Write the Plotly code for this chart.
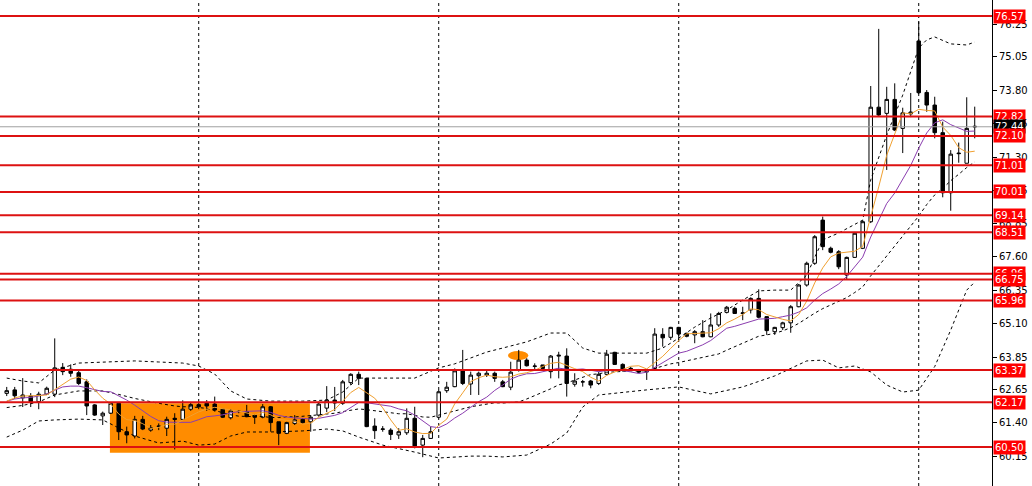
import plotly.graph_objects as go

# ---------------- data ----------------
opens = [62.50, 62.63, 62.33, 62.40, 62.19, 62.47, 62.47, 63.47, 63.40, 63.27,
         62.93, 62.07, 61.66, 61.76, 62.13, 61.07, 60.91, 61.53, 61.13, 61.28,
         61.20, 61.57, 61.53, 61.91, 62.08, 62.13, 62.10, 61.91, 61.59, 61.82,
         61.82, 61.69, 61.61, 62.00, 61.44, 61.01, 61.38, 61.53, 61.44, 61.69,
         61.95, 62.25, 62.13, 62.90, 63.21, 63.06, 61.28, 61.16, 61.13, 60.95,
         61.03, 61.57, 60.57, 60.82, 61.61, 62.60, 62.75, 63.34, 62.85, 63.16,
         63.18, 63.25, 62.93, 62.73, 63.37, 63.74, 63.52, 63.56, 63.31, 63.89,
         63.89, 62.84, 62.93, 62.96, 62.87, 63.21, 64.03, 63.58, 63.40, 63.37,
         63.30, 63.43, 64.70, 64.59, 64.96, 64.74, 64.68, 64.80, 64.61, 65.05,
         65.52, 65.67, 65.48, 65.61, 66.04, 65.36, 64.80, 64.95, 65.13, 65.73,
         66.54, 67.35, 68.96, 67.91, 67.78, 66.91, 67.57, 67.91, 68.90, 73.17,
         72.94, 73.46, 72.38, 72.92, 75.64, 73.72, 73.25, 72.22, 69.98, 71.46,
         71.08, 72.46]
highs = [62.74, 62.74, 63.07, 62.51, 62.56, 62.75, 64.55, 63.63, 63.58, 63.40,
         63.02, 62.10, 61.82, 62.15, 62.15, 61.26, 61.66, 61.66, 61.32, 61.38,
         61.63, 61.76, 62.24, 62.15, 62.15, 62.25, 62.38, 61.94, 61.91, 61.88,
         62.07, 61.69, 62.10, 62.03, 61.44, 61.44, 61.69, 61.57, 61.69, 62.19,
         62.77, 62.74, 63.00, 63.25, 63.31, 63.07, 61.57, 61.28, 61.20, 61.20,
         61.94, 62.00, 60.95, 61.26, 62.63, 62.93, 63.43, 64.12, 63.31, 63.31,
         63.37, 63.31, 63.00, 63.68, 64.12, 63.81, 63.62, 63.56, 63.93, 64.05,
         64.18, 63.25, 63.00, 63.00, 63.31, 64.12, 64.05, 63.62, 63.49, 63.41,
         63.39, 64.93, 64.93, 64.98, 64.98, 64.76, 64.86, 65.23, 65.48, 65.54,
         65.76, 65.73, 65.73, 66.08, 66.38, 65.38, 64.98, 65.17, 65.79, 66.58,
         67.41, 68.40, 69.09, 67.97, 67.84, 67.60, 68.52, 68.96, 73.96, 76.09,
         73.93, 74.06, 73.15, 73.70, 76.36, 73.81, 73.56, 72.63, 71.57, 71.85,
         73.54, 73.19]
lows = [62.40, 62.29, 61.99, 61.99, 61.91, 62.44, 62.36, 63.18, 63.12, 62.81,
        61.69, 61.66, 61.32, 61.73, 60.76, 60.64, 60.82, 61.13, 61.07, 61.13,
        60.91, 60.41, 61.51, 61.85, 61.91, 61.85, 61.82, 61.58, 61.53, 61.76,
        61.61, 61.36, 61.57, 61.07, 60.57, 60.98, 61.32, 61.38, 61.07, 61.63,
        61.80, 61.84, 62.07, 62.81, 62.81, 61.24, 60.80, 61.07, 60.76, 60.80,
        60.95, 60.45, 60.12, 60.80, 61.57, 62.52, 62.73, 62.81, 62.44, 62.44,
        63.11, 62.93, 62.73, 62.62, 63.31, 63.50, 63.41, 63.37, 63.06, 63.06,
        62.38, 62.75, 62.75, 62.69, 62.81, 63.18, 63.56, 63.31, 63.33, 63.25,
        63.00, 63.37, 64.24, 64.49, 64.49, 64.59, 64.37, 64.59, 64.59, 64.98,
        65.48, 65.46, 65.23, 65.48, 65.30, 64.68, 64.68, 64.86, 64.76, 65.71,
        66.48, 67.29, 67.84, 67.72, 67.13, 66.73, 67.55, 67.88, 68.85, 72.84,
        70.83, 72.28, 71.46, 72.80, 73.66, 73.00, 72.01, 69.81, 69.31, 71.10,
        71.08, 72.01]
closes = [62.60, 62.41, 62.44, 62.19, 62.47, 62.69, 63.45, 63.31, 63.25, 62.87,
          62.03, 61.69, 61.76, 62.13, 61.07, 60.95, 61.53, 61.17, 61.22, 61.27,
          61.53, 61.53, 61.91, 62.08, 62.00, 62.03, 61.88, 61.61, 61.85, 61.83,
          61.63, 61.61, 62.00, 61.41, 61.01, 61.41, 61.51, 61.41, 61.61, 62.10,
          62.25, 62.14, 62.93, 63.21, 63.06, 61.26, 61.11, 61.17, 60.97, 61.07,
          61.57, 60.54, 60.82, 61.07, 62.56, 62.73, 63.34, 62.87, 63.18, 63.25,
          63.25, 63.06, 62.75, 63.29, 63.74, 63.53, 63.51, 63.43, 63.89, 63.92,
          62.87, 62.96, 62.93, 62.81, 63.21, 63.96, 63.58, 63.37, 63.43, 63.29,
          63.37, 64.71, 64.57, 64.96, 64.71, 64.63, 64.80, 64.61, 65.05, 65.48,
          65.71, 65.48, 65.50, 66.04, 65.34, 64.84, 64.96, 65.13, 65.73, 66.54,
          67.35, 68.34, 67.97, 67.76, 67.22, 67.57, 68.47, 68.90, 73.17, 72.88,
          73.46, 72.32, 72.96, 72.99, 73.71, 73.25, 72.22, 69.98, 71.42, 71.44,
          72.38, 72.44]

fast_ma = [62.21, 62.33, 62.40, 62.40, 62.42, 62.44, 62.64, 62.82, 63.03, 63.11,
           62.98, 62.63, 62.32, 62.10, 61.73, 61.52, 61.49, 61.37, 61.19, 61.23,
           61.35, 61.35, 61.49, 61.66, 61.81, 61.91, 61.98, 61.92, 61.88, 61.84,
           61.76, 61.70, 61.79, 61.70, 61.53, 61.49, 61.46, 61.35, 61.39, 61.61,
           61.77, 61.90, 62.21, 62.53, 62.72, 62.52, 62.32, 61.96, 61.51, 61.12,
           61.18, 61.06, 61.00, 61.01, 61.31, 61.54, 62.11, 62.52, 62.94, 63.08,
           63.18, 63.12, 63.10, 63.12, 63.22, 63.27, 63.36, 63.50, 63.62, 63.66,
           63.53, 63.42, 63.31, 63.10, 62.96, 63.17, 63.30, 63.39, 63.51, 63.53,
           63.41, 63.64, 63.88, 64.18, 64.47, 64.72, 64.74, 64.74, 64.76, 64.91,
           65.13, 65.27, 65.44, 65.65, 65.62, 65.44, 65.34, 65.26, 65.20, 65.44,
           65.94, 66.62, 67.18, 67.59, 67.73, 67.77, 67.80, 67.98, 69.06, 70.20,
           71.38, 72.14, 72.96, 72.92, 73.09, 73.05, 73.03, 72.43, 72.12, 71.66,
           71.49, 71.53]
slow_ma = [62.21, 62.29, 62.33, 62.35, 62.40, 62.48, 62.62, 62.74, 62.77, 62.77,
           62.71, 62.64, 62.57, 62.56, 62.42, 62.25, 62.06, 61.85, 61.64, 61.48,
           61.43, 61.42, 61.43, 61.42, 61.52, 61.63, 61.66, 61.70, 61.77, 61.82,
           61.83, 61.84, 61.85, 61.79, 61.68, 61.62, 61.58, 61.57, 61.54, 61.57,
           61.63, 61.68, 61.78, 61.96, 62.16, 62.15, 62.11, 62.08, 62.02, 61.92,
           61.85, 61.69, 61.48, 61.26, 61.22, 61.36, 61.58, 61.76, 61.98, 62.19,
           62.36, 62.61, 62.81, 63.03, 63.15, 63.23, 63.24, 63.30, 63.37, 63.44,
           63.40, 63.39, 63.41, 63.36, 63.31, 63.35, 63.36, 63.35, 63.30, 63.24,
           63.29, 63.47, 63.63, 63.84, 64.00, 64.07, 64.18, 64.31, 64.47, 64.69,
           64.93, 65.00, 65.09, 65.20, 65.27, 65.28, 65.30, 65.36, 65.42, 65.53,
           65.69, 65.98, 66.22, 66.39, 66.58, 66.86, 67.21, 67.58, 68.33, 68.96,
           69.58, 69.97, 70.47, 71.00, 71.64, 72.21, 72.59, 72.70, 72.52, 72.38,
           72.27, 72.28]

band_mid_idx = [0, 2, 4, 6, 9, 12, 14, 16] + list(range(19, 122))
band_mid = [61.97, 62.05, 62.18, 62.44, 62.59, 62.59, 62.46, 62.31,
            62.13, 62.07, 62.03, 62.00, 62.00, 61.97, 61.94, 61.86, 61.78, 61.70,
            61.65, 61.63, 61.63, 61.64, 61.60, 61.60, 61.63, 61.62, 61.64, 61.66,
            61.70, 61.73, 61.76, 61.82, 61.87, 61.92, 61.89, 61.85, 61.82, 61.78,
            61.74, 61.74, 61.68, 61.62, 61.61, 61.69, 61.75, 61.85, 61.92, 62.00,
            62.05, 62.11, 62.15, 62.14, 62.15, 62.18, 62.29, 62.41, 62.53, 62.67,
            62.82, 62.88, 63.00, 63.11, 63.20, 63.23, 63.29, 63.30, 63.33, 63.34,
            63.34, 63.34, 63.43, 63.52, 63.60, 63.65, 63.71, 63.77, 63.83, 63.89,
            63.97, 64.11, 64.24, 64.36, 64.52, 64.63, 64.68, 64.74, 64.83, 64.95,
            65.11, 65.31, 65.49, 65.66, 65.80, 65.92, 66.07, 66.26, 66.47, 66.88,
            67.25, 67.63, 67.98, 68.35, 68.70, 69.11, 69.54, 69.90, 70.14, 70.43,
            70.67, 70.92, 71.13]
band_up_idx = [0, 2, 4, 6, 9, 12, 16, 19, 22, 24, 26, 28, 30, 33, 37, 40, 42, 44, 47, 51,
               54, 56, 58, 60, 62, 65, 68, 70, 72, 74, 80, 82, 84, 86, 88, 90, 92, 94, 96, 98,
               100, 101, 102, 104, 106, 107, 108, 110, 112, 114, 115, 116, 118, 120, 121]
band_up = [63.07, 62.96, 62.89, 63.37, 63.63, 63.67, 63.71, 63.67, 63.63, 63.52,
           63.22, 62.59, 62.29, 62.21, 62.21, 62.25, 62.55, 63.07, 63.07, 63.07,
           63.45, 63.60, 63.82, 64.04, 64.19, 64.42, 64.75, 64.75, 64.19, 64.00,
           64.00, 64.19, 64.56, 64.97, 65.31, 65.61, 65.98, 66.32, 66.35, 66.35,
           66.91, 67.55, 68.22, 68.48, 68.78, 68.96, 70.46, 72.13, 73.62, 75.38,
           75.68, 75.79, 75.53, 75.49, 75.60]
band_lo_idx = [0, 2, 4, 6, 9, 12, 14, 16, 19, 22, 24, 26, 28, 30, 33, 37, 40, 42, 44, 47,
               51, 54, 58, 60, 62, 65, 68, 70, 72, 74, 80, 84, 88, 92, 96, 100, 102, 104, 106,
               108, 110, 112, 114, 116, 118, 120, 121]
band_lo = [60.87, 61.13, 61.47, 61.51, 61.54, 61.51, 61.21, 60.91, 60.65, 60.72,
           60.57, 60.61, 60.91, 61.06, 61.06, 61.10, 61.17, 61.10, 60.87, 60.57,
           60.31, 60.09, 60.16, 60.16, 60.13, 60.20, 60.61, 61.02, 61.99, 62.44,
           62.63, 62.74, 62.48, 62.74, 63.15, 63.71, 63.74, 63.45, 63.52, 63.30,
           62.81, 62.55, 62.62, 63.50, 64.86, 66.35, 66.65]

levels = [76.57, 72.82, 72.10, 71.01, 70.01, 69.14, 68.51, 66.96, 66.75, 65.96, 63.37, 62.17, 60.50]
current_price = 72.44
separators = [24, 54, 84, 114]
tick_vals = [76.25, 75.05, 73.80, 72.55, 71.30, 70.05, 68.85, 67.60, 66.35, 65.10, 63.85, 62.65, 61.40, 60.15]
zone_x = [12.9, 37.9]
zone_y = [60.29, 62.13]
mark_x = [62.66, 65.2]
mark_y = [63.74, 64.08]

# ---------------- figure ----------------
idx = list(range(len(opens)))
FONT = "DejaVu Sans"
fig = go.Figure()

fig.add_trace(go.Candlestick(
    x=idx, open=opens, high=highs, low=lows, close=closes,
    increasing=dict(line=dict(color="black", width=1), fillcolor="white"),
    decreasing=dict(line=dict(color="black", width=1), fillcolor="black"),
    whiskerwidth=0, hoverinfo="skip", showlegend=False))

for bi, bv in ((band_up_idx, band_up), (band_mid_idx, band_mid), (band_lo_idx, band_lo)):
    fig.add_trace(go.Scatter(x=bi, y=bv, mode="lines", hoverinfo="skip", showlegend=False,
                             line=dict(color="black", width=1, dash="3px,3px")))

fig.add_trace(go.Scatter(x=idx, y=slow_ma, mode="lines", hoverinfo="skip", showlegend=False,
                         line=dict(color="#8B3DAF", width=1)))
fig.add_trace(go.Scatter(x=idx, y=fast_ma, mode="lines", hoverinfo="skip", showlegend=False,
                         line=dict(color="#F0A030", width=1)))

shapes = []
shapes.append(dict(type="rect", xref="x", yref="y", x0=zone_x[0], x1=zone_x[1],
                   y0=zone_y[0], y1=zone_y[1], fillcolor="#FF8C00",
                   line=dict(width=0), layer="below"))
shapes.append(dict(type="circle", xref="x", yref="y", x0=mark_x[0], x1=mark_x[1],
                   y0=mark_y[0], y1=mark_y[1], fillcolor="#FF8C00",
                   line=dict(width=0), layer="below"))
for s in separators:
    shapes.append(dict(type="line", xref="x", yref="paper", x0=s, x1=s, y0=0, y1=1,
                       line=dict(color="black", width=1, dash="3px,3px"), layer="below"))
shapes.append(dict(type="line", xref="paper", yref="y", x0=0, x1=1,
                   y0=current_price, y1=current_price,
                   line=dict(color="#A0A0A0", width=1), layer="above"))
for lv in levels:
    shapes.append(dict(type="line", xref="paper", yref="y", x0=0, x1=1, y0=lv, y1=lv,
                       line=dict(color="#DD1111", width=2), layer="above"))

annotations = []
def label(v, bg):
    return dict(x=1, xref="paper", xanchor="left", xshift=1, y=v, yref="y",
                yanchor="middle", text=f"{v:.2f}", showarrow=False, bgcolor=bg,
                borderpad=1, font=dict(family=FONT, size=10, color="white"))

for lv in levels:
    if lv == 72.10:
        annotations.append(label(current_price, "black"))
    annotations.append(label(lv, "#FF0000"))

fig.update_layout(
    width=1032, height=486,
    margin=dict(l=0, r=40, t=0, b=0, pad=0),
    paper_bgcolor="white", plot_bgcolor="white",
    boxgap=0.38,
    shapes=shapes, annotations=annotations,
    showlegend=False,
    xaxis=dict(range=[-0.84, 123.16], showticklabels=False, showgrid=False,
               zeroline=False, showline=False, ticks="", rangeslider=dict(visible=False),
               fixedrange=True),
    yaxis=dict(side="right", range=[59.046, 77.167], tickvals=tick_vals,
               ticktext=[f"{t:.2f}" for t in tick_vals], ticks="outside", ticklen=4,
               tickcolor="black", showline=True, linecolor="black", linewidth=1,
               showgrid=False, zeroline=False, fixedrange=True, automargin=False,
               tickfont=dict(family=FONT, size=10, color="black")),
)

fig.write_html("out.html", config={"displayModeBar": False},
               post_script="document.body.style.margin='0px';document.body.style.overflow='hidden';")
